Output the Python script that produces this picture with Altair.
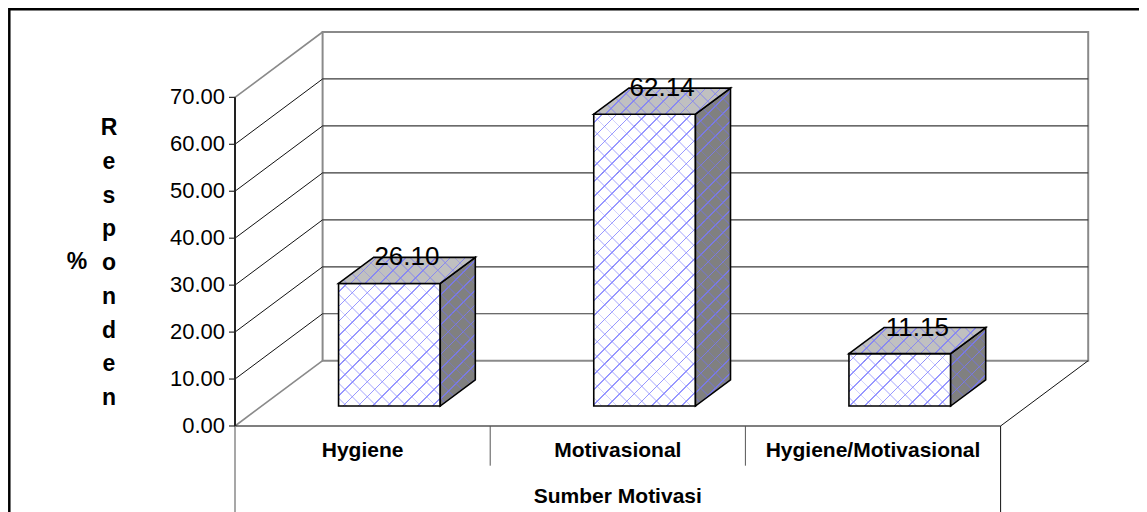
import math
import altair as alt
import pandas as pd

# ---------------- data ----------------
categories = ["Hygiene", "Motivasional", "Hygiene/Motivasional"]
values = [26.10, 62.14, 11.15]
y_ticks = [0, 10, 20, 30, 40, 50, 60, 70]
x_title = "Sumber Motivasi"
y_title_word = "Responden"
y_title_prefix = "%"

# ---------------- geometry / style ----------------
FONT = "Liberation Sans"
W, H = 904, 480
PX_X = 255.2          # pixels per category band
PX_Y = 4.6957         # pixels per value unit
N = len(categories)
YTOP = float(max(y_ticks))
DX = 87.6 / PX_X      # 3-D depth (x units)
DV = 65.3 / PX_Y      # 3-D depth (value units)
XMAX = W / PX_X
YMAX = YTOP + DV
YMIN = YMAX - H / PX_Y
BW = 101.7 / PX_X     # bar width
F1, FD = 0.306, 0.40  # bar front position / depth as fraction of full depth

xs = alt.Scale(domain=[0, XMAX], range=[0, W], nice=False, zero=False)
ys = alt.Scale(domain=[YMIN, YMAX], range=[H, 0], nice=False, zero=False)


def X(f="x"):
    return alt.X(f"{f}:Q", scale=xs, axis=None)


def Y(f="y"):
    return alt.Y(f"{f}:Q", scale=ys, axis=None)


def seg(rows, color, width):
    df = pd.DataFrame([[float(a) for a in r] for r in rows], columns=["x", "y", "x2", "y2"])
    return alt.Chart(df).mark_rule(color=color, strokeWidth=width).encode(
        x=X(), y=Y(), x2="x2:Q", y2="y2:Q"
    )


def stripes(w, h, direction, spacing, lw, color, base):
    L = (w + h) / math.sqrt(2)
    s = (w + h) / (w * w + h * h)
    if direction == "/":
        x1, y1, x2, y2 = 0, 0, s * w, s * h
    else:
        x1, y1, x2, y2 = 0, 1, s * w, 1 - s * h
    f = lw / L
    stops = [alt.GradientStop(offset=0, color=base)]
    k = 0
    while True:
        o = (k * spacing + spacing * 0.5) / L
        if o + f >= 1:
            break
        o = round(o, 5)
        o2 = round(o + f, 5)
        stops += [
            alt.GradientStop(offset=o, color=base),
            alt.GradientStop(offset=o, color=color),
            alt.GradientStop(offset=o2, color=color),
            alt.GradientStop(offset=o2, color=base),
        ]
        k += 1
    stops.append(alt.GradientStop(offset=1, color=base))
    return alt.LinearGradient(gradient="linear", stops=stops,
                              x1=x1, y1=y1, x2=round(x2, 5), y2=round(y2, 5))


layers = []

# back wall
wall = pd.DataFrame({"x": [DX], "x2": [N + DX], "y": [DV], "y2": [YTOP + DV]})
layers.append(alt.Chart(wall).mark_rect(fill="white", stroke="#8a8a8a", strokeWidth=2)
              .encode(x=X(), x2="x2:Q", y=Y(), y2="y2:Q"))

# back gridlines
inner = [t for t in y_ticks if 0 < t < YTOP]
layers.append(seg([(DX, t + DV, N + DX, t + DV) for t in inner], "#3a3a3a", 1.2))
# side-wall diagonals
layers.append(seg([(0, t, DX, t + DV) for t in inner], "#111111", 1))
layers.append(seg([(0, t, DX, t + DV) for t in (0, YTOP)], "#8a8a8a", 1.6))
# floor right edge and front edge
layers.append(seg([(N, 0, N + DX, DV)], "#111111", 1))
layers.append(seg([(0, 0, N, 0)], "#000000", 1.2))
# lines below the floor
layers.append(seg([(0, YMIN, 0, 0)], "#8a8a8a", 1.5))
layers.append(seg([(N, YMIN, N, 0)], "#111111", 1))
layers.append(seg([(i, -8.45, i, 0) for i in range(1, N)], "#555555", 1))

# value axis ticks and labels
tk = pd.DataFrame({"y": [float(t) for t in y_ticks], "t": [f"{t:.2f}" for t in y_ticks]})
layers.append(alt.Chart(tk).mark_rule(color="#000", strokeWidth=1)
              .encode(x=alt.value(-6), x2=alt.value(0), y=Y()))
layers.append(alt.Chart(tk).mark_text(font=FONT, fontSize=22, color="#000",
                                      align="right", baseline="middle")
              .encode(x=alt.value(-10), y=Y(), text="t:N"))

# ---------------- 3-D bars ----------------
bw_px = BW * PX_X
dxb = FD * DX
dvb = FD * DV
SP = 10.5
for i, (cat, v) in enumerate(zip(categories, values)):
    xl = i + 0.5 - BW / 2 + F1 * DX
    xr = xl + BW
    yb = F1 * DV
    yt = v + F1 * DV

    # front face
    front = pd.DataFrame({"x": [xl], "x2": [xr], "y": [yb], "y2": [yt]})
    fw, fh = bw_px, v * PX_Y
    for fill in (stripes(fw, fh, "/", SP, 1.2, "rgba(140,140,255,0.9)", "#ffffff"),
                 stripes(fw, fh, "\\", SP, 1.2, "rgba(140,140,255,0.4)", "rgba(140,140,255,0)")):
        layers.append(alt.Chart(front).mark_rect(fill=fill, strokeWidth=0)
                      .encode(x=X(), x2="x2:Q", y=Y(), y2="y2:Q"))
    layers.append(alt.Chart(front).mark_rect(fillOpacity=0, fill="white", stroke="#000",
                                             strokeWidth=1.6)
                  .encode(x=X(), x2="x2:Q", y=Y(), y2="y2:Q"))

    # side face
    side = pd.DataFrame({"x": [xr, xr + dxb], "y": [yt, yt + dvb], "y2": [yb, yb + dvb]})
    sw, sh = dxb * PX_X, (v + dvb) * PX_Y
    for fill in (stripes(sw, sh, "/", SP, 1.2, "rgba(115,115,225,0.95)", "#808080"),
                 stripes(sw, sh, "\\", SP, 1.2, "rgba(115,115,225,0.45)", "rgba(115,115,225,0)")):
        layers.append(alt.Chart(side).mark_area(orient="vertical", fill=fill, strokeWidth=0)
                      .encode(x=X(), y=Y(), y2="y2:Q"))
    layers.append(alt.Chart(side).mark_area(orient="vertical", fill="white", fillOpacity=0,
                                            stroke="#000", strokeWidth=1.6)
                  .encode(x=X(), y=Y(), y2="y2:Q"))

    # top face
    top = pd.DataFrame({"y": [yt, yt + dvb], "x": [xl, xl + dxb], "x2": [xr, xr + dxb]})
    tw, th = (BW + dxb) * PX_X, dvb * PX_Y
    for fill in (stripes(tw, th, "/", SP, 1.2, "rgba(130,130,240,0.95)", "#c0c0c0"),
                 stripes(tw, th, "\\", SP, 1.2, "rgba(130,130,240,0.45)", "rgba(130,130,240,0)")):
        layers.append(alt.Chart(top).mark_area(orient="horizontal", fill=fill, strokeWidth=0)
                      .encode(y=Y(), x=X(), x2="x2:Q"))
    layers.append(alt.Chart(top).mark_area(orient="horizontal", fill="white", fillOpacity=0,
                                           stroke="#000", strokeWidth=1.6)
                  .encode(y=Y(), x=X(), x2="x2:Q"))

# data labels
lab = pd.DataFrame({
    "x": [i + 0.5 + F1 * DX + FD * DX / 2 for i in range(N)],
    "y": [v + F1 * DV for v in values],
    "t": [f"{v:.2f}" for v in values],
})
layers.append(alt.Chart(lab).mark_text(font=FONT, fontSize=26, color="#000",
                                       align="center", baseline="alphabetic", dy=-18)
              .encode(x=X(), y=Y(), text="t:N"))

# category labels
cl = pd.DataFrame({"x": [i + 0.5 for i in range(N)], "y": [-6.67] * N, "t": categories})
layers.append(alt.Chart(cl).mark_text(font=FONT, fontSize=21, fontWeight="bold", color="#000",
                                      align="center", baseline="alphabetic")
              .encode(x=X(), y=Y(), text="t:N"))
xt = pd.DataFrame({"x": [N / 2], "y": [-16.33], "t": [x_title]})
layers.append(alt.Chart(xt).mark_text(font=FONT, fontSize=21, fontWeight="bold", color="#000",
                                      align="center", baseline="alphabetic")
              .encode(x=X(), y=Y(), text="t:N"))

# y title: stacked letters plus "%"
one = pd.DataFrame({"a": [0]})
layers.append(alt.Chart(one).mark_text(font=FONT, fontSize=23, fontWeight="bold", color="#000",
                                       align="center", baseline="alphabetic", lineHeight=33.75)
              .encode(x=alt.value(-126), y=alt.value(103), text=alt.value(list(y_title_word))))
layers.append(alt.Chart(one).mark_text(font=FONT, fontSize=23, fontWeight="bold", color="#000",
                                       align="center", baseline="alphabetic")
              .encode(x=alt.value(-158), y=alt.value(237), text=alt.value(y_title_prefix)))

# outer frame (top and left edges)
layers.append(alt.Chart(one).mark_rule(color="#000", strokeWidth=2.5)
              .encode(x=alt.value(-226), x2=alt.value(W), y=alt.value(-22.7)))
layers.append(alt.Chart(one).mark_rule(color="#000", strokeWidth=2.5)
              .encode(x=alt.value(-225.7), y=alt.value(-24), y2=alt.value(H)))

# front value-axis line as a two-point line mark, drawn last
axis_pts = pd.DataFrame({"x": [0.0, 0.0], "y": [0.0, YTOP], "o": [0, 1]})
layers.append(alt.Chart(axis_pts).mark_line(color="#222222", strokeWidth=2)
              .encode(x=X(), y=Y(), order="o:Q"))

chart = alt.layer(*layers).properties(
    width=W, height=H,
    autosize=alt.AutoSizeParams(type="none"),
    padding={"left": 227, "top": 24, "right": 0, "bottom": 0},
    background="white",
).configure_view(strokeWidth=0)

chart.save("out.html", embed_options={"renderer": "svg", "actions": False})
